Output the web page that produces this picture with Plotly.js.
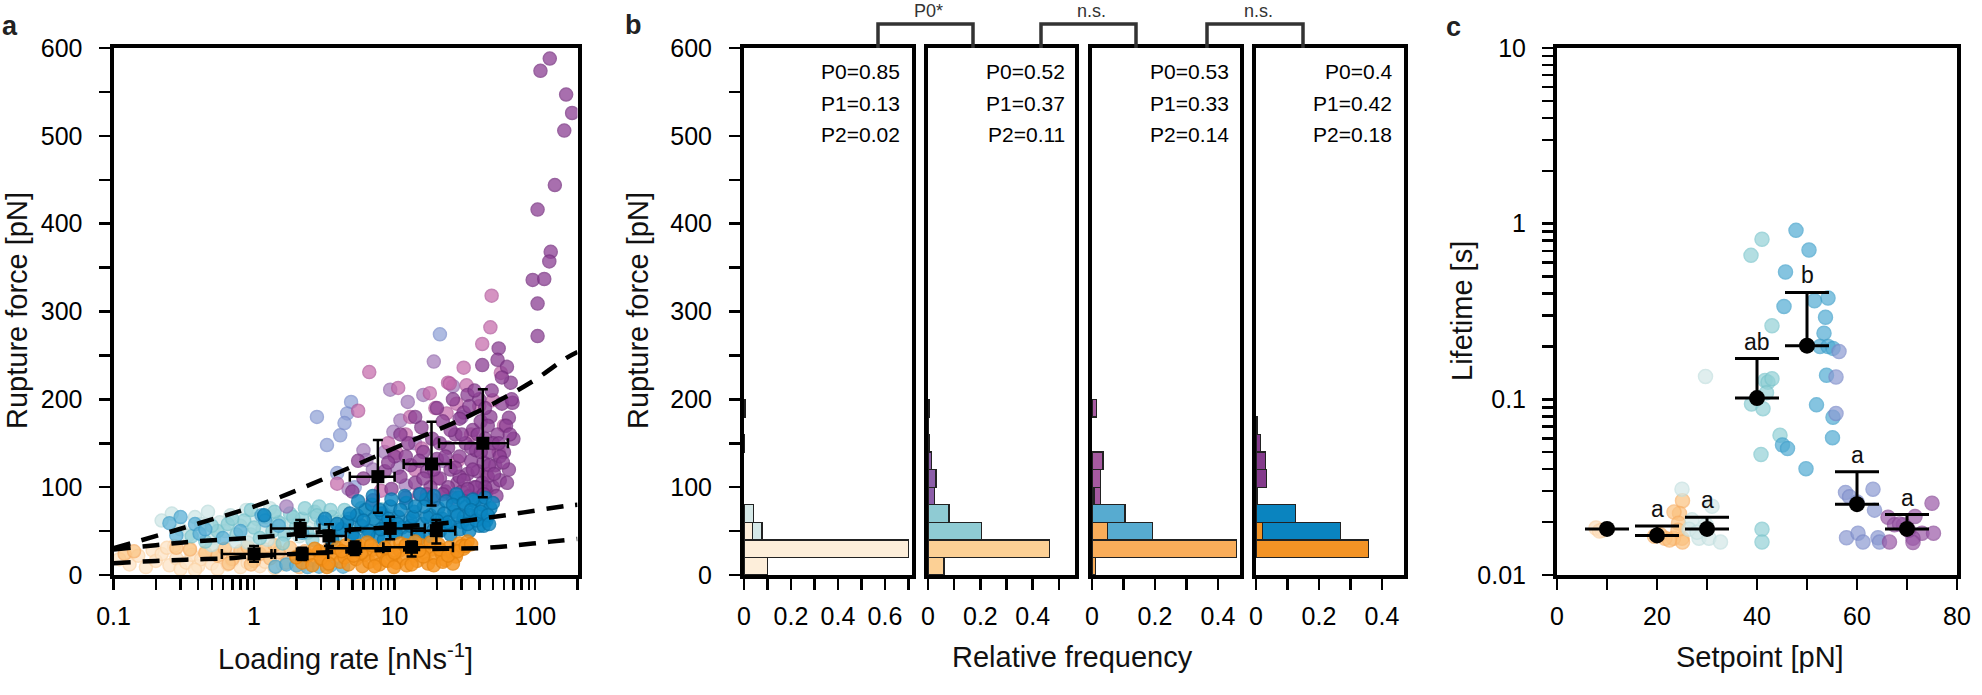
<!DOCTYPE html>
<html>
<head>
<meta charset="utf-8">
<script src="https://cdn.plot.ly/plotly-3.0.1.min.js"></script>
<style>
  html, body { margin: 0; padding: 0; background: #fff; }
  #chart { width: 1982px; height: 695px; }
</style>
</head>
<body>
<div id="chart"></div>
<script>
// ---------- panel a: rupture force vs loading rate ----------
// [loading rate (nN/s), rupture force (pN)]
const ptsPaleOrange = [[0.11,18],[0.13,12],[0.15,22],[0.17,9],[0.19,28],[0.2,16],[0.22,24],[0.25,11],[0.27,33],[0.28,19],[0.3,7],[0.33,14],[0.35,30],[0.36,23],[0.4,10],[0.42,18],[0.45,26],[0.5,13],[0.5,29],[0.55,7],[0.6,20],[0.65,12],[0.7,16],[0.75,24],[0.8,9],[0.9,14],[1.0,19],[1.1,10],[1.2,15],[1.4,8],[1.6,12],[0.24,31],[0.38,6],[0.85,27]];
const ptsLightOrange = [[0.12,24],[0.14,27],[0.28,31],[0.35,29],[0.45,25],[0.55,22],[0.62,30],[0.7,18],[0.8,27],[0.9,32],[1.0,16],[1.1,24],[1.2,29],[1.3,19],[1.5,26],[1.7,14],[1.8,31],[2.0,21],[2.3,27],[2.6,17],[3.0,24],[3.4,30],[3.9,19],[4.4,26],[0.66,13],[1.4,34],[0.95,12],[2.1,9]];
const ptsOrange = [[2.2,14],[2.4,22],[2.6,11],[2.9,27],[3.1,17],[3.3,9],[3.6,24],[3.9,31],[4.1,15],[4.4,20],[4.7,12],[5.0,28],[5.3,18],[5.6,33],[5.9,10],[6.2,23],[6.6,15],[7.0,29],[7.4,20],[7.8,12],[8.2,26],[8.7,17],[9.2,33],[9.7,22],[10.3,14],[10.9,28],[11.5,19],[12.2,11],[12.9,30],[13.7,22],[14.5,16],[15.4,34],[16.3,25],[17.3,13],[18.3,29],[19.4,20],[20.5,35],[21.7,24],[23,17],[24.4,31],[25.8,26],[27.3,21],[29,36],[31,30],[33,38],[3.0,19],[4.5,34],[5.8,25],[7.2,10],[8.9,16],[11,36],[13.2,12],[16,21],[19,11],[22,15],[26,13],[30,33],[6.4,37],[9.9,9],[14,38],
  [2.0,20],[2.7,30],[3.4,13],[4.2,27],[5.1,22],[6.8,34],[8.5,31],[10,25],[12,34],[15,28],[18,37],[21,29],[24,22],[28,27],[32,33],[35,35]];
const ptsPaleTeal = [[0.22,62],[0.26,70],[0.3,52],[0.34,45],[0.38,66],[0.42,58],[0.47,72],[0.52,42],[0.57,60],[0.62,50],[0.68,68],[0.74,38],[0.8,56],[0.88,74],[0.95,46],[1.05,64],[1.15,52],[1.25,40],[1.4,68],[1.55,58],[1.7,48],[1.9,62],[2.1,44],[2.4,54],[2.7,66],[0.5,34],[0.9,37],[1.3,76]];
const ptsTeal = [[0.36,44],[0.45,38],[0.55,50],[0.65,58],[0.75,46],[0.85,62],[1.0,54],[1.1,42],[1.2,66],[1.35,50],[1.5,60],[1.65,46],[1.8,70],[2.0,56],[2.2,64],[2.4,48],[2.7,72],[3.0,58],[3.3,52],[3.6,66],[4.0,60],[4.4,74],[4.9,56],[5.4,68],[6.0,62],[6.7,72],[7.5,64],[8.4,70],[9.4,66],[1.6,36],[2.6,40],[3.8,44],[5.2,48],[0.95,74],[2.9,78],
  [1.4,72],[2.3,76],[3.5,74],[4.6,64],[5.8,76],[7,58],[8,75],[9,60],[1.9,66],[2.8,68],[0.7,64],[0.5,56]];
const ptsLightBlue = [[0.25,59],[0.28,45],[0.3,66],[0.38,58],[0.41,47],[0.45,52],[1.13,68],[1.2,62],[1.42,9.5],[1.7,12],[2.0,11],[2.4,9],[2.9,9.5],[3.5,11],[4.3,9.5],[1.5,56],[2.2,48],[3.1,60],[4.0,52],[4.8,64],[0.6,42],[0.8,50]];
const ptsBlue = [[4.2,52],[4.6,60],[5.0,46],[5.4,68],[5.8,56],[6.2,74],[6.6,50],[7.1,64],[7.6,44],[8.1,70],[8.7,58],[9.3,78],[9.9,48],[10.6,66],[11.3,54],[12.1,82],[12.9,62],[13.8,72],[14.7,46],[15.7,58],[16.8,86],[17.9,68],[19.1,52],[20.4,76],[21.8,64],[23.3,84],[24.9,56],[26.6,72],[28.4,88],[30.3,60],[32.4,78],[34.6,68],[37,84],[39.5,70],[42.2,80],[45,62],[48,76],[5.2,42],[6.9,80],[8.4,40],[10.2,48],[12.5,44],[15,42],[18,44],[21,50],[25,46],[29,52],[34,50],[40,56],[6,62],[9,64],[13,56],[17,66],[23,58],[31,66],[44,88],[7.8,74],[11.8,90],[16.2,78],[27.5,92],[36,86],[1.18,68],[3.6,40],
  [5.5,84],[7,90],[9.5,86],[11,74],[13.5,66],[15.2,92],[19,90],[22.5,70],[24,60],[26,80],[28,68],[31,82],[33,58],[35,74],[38,62],[41,72],[43,56],[46,68],[50,82],[47,58],[20,62],[14,78],[10.5,58],[8,52],[6.5,46],[4.8,70],[3.9,58],[3.2,64]];
const ptsPeriwinkle = [[2.8,180],[4.9,197],[4.6,184],[4.4,173],[4.1,159],[3.3,148],[3.9,116],[21,274],[5.2,100]];
const ptsLavender = [[9.3,211],[12.4,197],[9.8,163],[11,176],[8.5,140],[6,142],[6.3,131],[19,243],[14,150],[22,130],[30,180],[7,120],[12,102],[16,205],[4.7,98],[1.7,78],[26,215],[10.5,122]];
const ptsPink = [[6.6,231],[10.6,213],[5.5,187],[3.9,104],[24,219],[31,236],[57,230],[49,318],[48,282],[42,263],[24.7,218],[32.5,216],[17.8,207],[19.5,190],[12.9,180],[23.4,184],[27.6,195],[40,192],[15.6,144],[10.3,139],[50,199],[9,150],[14,120],[35,160],[20,110],[60,170],[8,96],[28,130],[45,115],[18,88],[12,160],[55,140]];
const ptsPurple = [[127,588],[109,574],[166,547],[183,526],[161,506],[138,444],[104,416],[129,368],[126,357],[96,336],[116,337],[104,309],[104,272],[55,258],[54,245],[63,237],[42,239],[67,219],[69,196],[65,179],
  [8.5,118],[9.5,98],[10,135],[11,112],[12,88],[12.5,150],[13,125],[14,105],[15,92],[15.5,168],[16,140],[17,118],[18,100],[18.5,155],[19,85],[20,132],[21,110],[22,175],[23,95],[24,145],[25,120],[26,88],[27,160],[28,105],[29,135],[30,95],[31,185],[32,150],[33,115],[34,90],[35,130],[36,165],[37,100],[38,142],[39,118],[40,88],[41,175],[42,105],[43,128],[44,155],[45,95],[46,112],[47,140],[48,180],[50,100],[52,125],[54,160],[56,108],[58,195],[60,140],[62,170],[65,120],[68,200],[70,155],[5,95],[6,110],[7,85],[5.5,130],[26,200],[33,205],[20,190],[14,180],[24,100],[36,120],[44,100],[30,160],[50,150],[40,200],[11,160],[17,92],[29,112],[38,100],[46,170],[53,90],[56,135],
  [15,130],[19,120],[23,135],[27,122],[31,108],[35,145],[39,160],[43,92],[47,125],[51,115],[55,150],[59,128],[63,105],[66,160],[21,150],[25,165],[29,178],[34,192],[37,210],[44,190],[49,210],[58,225],[12,135],[9,128],[16,110],[22,92],[33,98],[41,140]];

// binned means with ranges (low/high) in both directions
const meanHiRate = [7.6, 18.3, 42.4];
const meanHiForce = [112, 126.4, 150];
const meanHiRateLo = [4.8, 11.6, 20.7];
const meanHiRateHi = [10.0, 25.1, 64];
const meanHiForceLo = [71, 79, 88.5];
const meanHiForceHi = [153.8, 174.6, 211.5];

const meanMidRate = [2.13, 3.41, 9.3, 19.8];
const meanMidForce = [53, 44.4, 53, 50.5];
const meanMidRateLo = [1.32, 2.0, 4.8, 13.2];
const meanMidRateHi = [2.92, 4.5, 16.4, 27];
const meanMidForceLo = [43.6, 33, 40.6, 36];
const meanMidForceHi = [62.6, 57.7, 66.4, 62.6];

const meanLoRate = [1.0, 2.2, 5.2, 13.2];
const meanLoForce = [24, 24, 30.4, 31.5];
const meanLoRateLo = [0.59, 1.33, 3.28, 8.3];
const meanLoRateHi = [1.41, 3.37, 8.3, 26];
const meanLoForceLo = [15, 17, 22.7, 21];
const meanLoForceHi = [33, 31, 38, 38];

// model curves
const fitUpperRate = [0.1, 0.406, 1.256, 3.87, 11.2, 34.7, 94.8, 166, 200];
const fitUpperForce = [30.4, 58.9, 83.5, 115.8, 148, 182, 220, 247, 254];
const fitMidRate = [0.1, 0.2, 0.36, 0.66, 1.2, 4.4, 22.4, 50, 166, 200];
const fitMidForce = [29, 34, 38, 40.6, 43.6, 51, 59, 66, 78.6, 80];
const fitLowRate = [0.1, 0.2, 0.37, 0.67, 0.92, 8.2, 46, 74, 129, 200];
const fitLowForce = [13.5, 16, 17.8, 19, 21, 28.5, 31, 34, 38, 41];

// ---------- panel b: rupture force histograms ----------
const binCenters = [10, 30, 50, 70, 90, 110, 130, 150, 170, 190];
const h1Orange = [0.10, 0.70, 0.037, 0, 0, 0, 0, 0, 0, 0];
const h1Teal   = [0, 0, 0.04, 0.041, 0, 0, 0, 0, 0, 0];
const h1Purple = [0, 0, 0, 0, 0, 0, 0, 0.003, 0, 0.004];
const h2Orange = [0.061, 0.465, 0, 0, 0, 0, 0, 0, 0, 0];
const h2Teal   = [0, 0, 0.205, 0.08, 0, 0, 0, 0, 0, 0];
const h2Purple = [0, 0, 0, 0, 0.025, 0.03, 0.014, 0.006, 0.002, 0.006];
const h3Orange = [0.012, 0.458, 0.05, 0, 0, 0, 0, 0, 0, 0];
const h3Blue   = [0, 0, 0.142, 0.105, 0.006, 0, 0, 0, 0, 0];
const h3Purple = [0, 0, 0, 0, 0.02, 0.026, 0.035, 0, 0, 0.014];
const h4Orange = [0, 0.357, 0.021, 0, 0, 0, 0, 0, 0, 0];
const h4Blue   = [0, 0, 0.247, 0.126, 0.004, 0, 0, 0, 0, 0];
const h4Purple = [0, 0, 0, 0, 0, 0.033, 0.031, 0.014, 0.003, 0];
const pLabels = [
  ['P0=0.85', 'P1=0.13', 'P2=0.02'],
  ['P0=0.52', 'P1=0.37', 'P2=0.11'],
  ['P0=0.53', 'P1=0.33', 'P2=0.14'],
  ['P0=0.4',  'P1=0.42', 'P2=0.18']
];
const bracketLabels = ['P0*', 'n.s.', 'n.s.'];

// ---------- panel c: lifetime vs setpoint ----------
// [setpoint (pN), lifetime (s)]
const life10 = [[7.8,0.0185],[9,0.018],[8.5,0.0178]];
const life20 = [[25.1,0.0265],[24.5,0.0224],[23.4,0.0228],[24.3,0.0197],[25,0.0162],[23.3,0.0162],[21.6,0.0162],[20.6,0.017],[24.2,0.018],[25.1,0.0154],[22.5,0.0158],[19.5,0.0166]];
const life30 = [[25,0.0308],[31,0.0246],[27,0.0206],[26.4,0.0182],[28.4,0.0162],[30.4,0.0162],[32.7,0.0154],[29.8,0.0193],[29.7,0.135],[28,0.0175]];
const life40 = [[41,0.815],[38.8,0.66],[43,0.262],[41.6,0.128],[42.2,0.125],[41.9,0.109],[38.9,0.094],[41.2,0.0885],[44.6,0.0624],[40.8,0.0485],[41,0.0182],[41,0.0154],[43,0.131]];
const life50 = [[47.8,0.916],[50.4,0.708],[45.7,0.531],[45.4,0.338],[51.5,0.364],[54.2,0.377],[53.7,0.293],[53.4,0.238],[52.6,0.2],[54.2,0.2],[55.2,0.195],[53.9,0.137],[51.9,0.093],[55.2,0.079],[55.1,0.0605],[49.8,0.0403],[45.1,0.055],[46.1,0.0525]];
const life60 = [[56.4,0.187],[55.8,0.134],[55.8,0.083],[57.7,0.0295],[58.5,0.0279],[63.2,0.0308],[63.5,0.0234],[57.9,0.0163],[60.2,0.0173],[61.2,0.0154],[64.2,0.0163],[64.5,0.0154],[60,0.026]];
const life70 = [[66.2,0.0213],[67.5,0.0193],[69.3,0.0193],[71.6,0.0215],[73,0.0173],[75,0.0256],[75.3,0.0173],[71.2,0.0162],[66.5,0.0154],[71.2,0.0153],[68.5,0.0195],[70.3,0.018]];
const setpoints = [10, 20, 30, 40, 50, 60, 70];
const meanLifetime = [0.0183, 0.0168, 0.0183, 0.1016, 0.202, 0.0253, 0.0183];
const lifetimeErrUp = [0, 0.0022, 0.003, 0.069, 0.204, 0.0134, 0.0038];
const groupLetters = ['', 'a', 'a', 'ab', 'b', 'a', 'a'];

// ---------- drawing ----------
const W = 1982, H = 695;
const FONT = 'Liberation Sans, Arial, Helvetica, sans-serif';
const fx = v => v / W;
const fy = v => (H - v) / H;
const Y_DOM = [fy(575), fy(48)];

const traces = [];

function cloud(pts, fill, ring, xa, ya, size, op) {
  traces.push({
    type: 'scatter', mode: 'markers', xaxis: xa, yaxis: ya,
    x: pts.map(p => p[0]), y: pts.map(p => p[1]),
    marker: { size: size, color: fill, opacity: op, line: { color: ring, width: 1.5 } },
    hoverinfo: 'skip'
  });
}

cloud(ptsPaleOrange, '#fde4c6', '#fbd4a8', 'x', 'y', 13, 0.75);
cloud(ptsLightOrange, '#fbc584', '#f7b06a', 'x', 'y', 13, 0.75);
cloud(ptsPaleTeal, '#cfe7e7', '#bddcdc', 'x', 'y', 13, 0.75);
cloud(ptsTeal, '#8fcfd6', '#76c2cb', 'x', 'y', 13, 0.75);
cloud(ptsLightBlue, '#5cb1d6', '#429fca', 'x', 'y', 13, 0.75);
cloud(ptsPeriwinkle, '#8fa1d6', '#7a8dcb', 'x', 'y', 13, 0.72);
cloud(ptsLavender, '#a57cbb', '#9066aa', 'x', 'y', 13, 0.72);
cloud(ptsPink, '#c56aab', '#b1569a', 'x', 'y', 13, 0.72);
cloud(ptsPurple, '#8c3f94', '#772f80', 'x', 'y', 13, 0.75);
cloud(ptsBlue, '#0a86c2', '#0672a8', 'x', 'y', 13, 0.8);
cloud(ptsOrange, '#f7941d', '#e8850f', 'x', 'y', 13, 0.82);

function fitLine(xs, ys) {
  traces.push({
    type: 'scatter', mode: 'lines', xaxis: 'x', yaxis: 'y', x: xs, y: ys,
    line: { color: '#000', width: 4.5, dash: '17px,12px', shape: 'spline' }, hoverinfo: 'skip'
  });
}
fitLine(fitUpperRate, fitUpperForce);
fitLine(fitMidRate, fitMidForce);
fitLine(fitLowRate, fitLowForce);

function meanSeries(x, y, xlo, xhi, ylo, yhi) {
  traces.push({
    type: 'scatter', mode: 'markers', xaxis: 'x', yaxis: 'y', x: x, y: y,
    marker: { symbol: 'square', size: 13, color: '#000' },
    error_x: { type: 'data', symmetric: false, array: x.map((v, i) => xhi[i] - v), arrayminus: x.map((v, i) => v - xlo[i]), color: '#000', thickness: 2.5, width: 5 },
    error_y: { type: 'data', symmetric: false, array: y.map((v, i) => yhi[i] - v), arrayminus: y.map((v, i) => v - ylo[i]), color: '#000', thickness: 2.5, width: 5 },
    hoverinfo: 'skip'
  });
}
meanSeries(meanLoRate, meanLoForce, meanLoRateLo, meanLoRateHi, meanLoForceLo, meanLoForceHi);
meanSeries(meanMidRate, meanMidForce, meanMidRateLo, meanMidRateHi, meanMidForceLo, meanMidForceHi);
meanSeries(meanHiRate, meanHiForce, meanHiRateLo, meanHiRateHi, meanHiForceLo, meanHiForceHi);

// panel b stacked horizontal histograms
const histSets = [
  { ax: 2, series: [[h1Orange, '#fdeeda'], [h1Teal, '#d5e8e7'], [h1Purple, '#6b3a7a']] },
  { ax: 3, series: [[h2Orange, '#fcd095'], [h2Teal, '#8fcbd3'], [h2Purple, '#8c5ea8']] },
  { ax: 4, series: [[h3Orange, '#f9ad5a'], [h3Blue, '#57abd0'], [h3Purple, '#a65aa0']] },
  { ax: 5, series: [[h4Orange, '#f39325'], [h4Blue, '#0a84bf'], [h4Purple, '#843b8c']] }
];
histSets.forEach(s => {
  s.series.forEach(([vals, col]) => {
    traces.push({
      type: 'bar', orientation: 'h', xaxis: 'x' + s.ax, yaxis: 'y' + s.ax,
      y: binCenters, x: vals.map(v => (v > 0 ? v : null)), width: 20,
      marker: { color: col, line: { color: '#222', width: 1.3 } }, hoverinfo: 'skip'
    });
  });
});

// panel c
cloud(life10, '#fde0c0', '#fbd2a6', 'x6', 'y6', 14, 0.7);
cloud(life20, '#fbc280', '#f8b066', 'x6', 'y6', 14, 0.7);
cloud(life30, '#d3e8e8', '#c2dfdf', 'x6', 'y6', 14, 0.7);
cloud(life40, '#93d1d6', '#7cc5cc', 'x6', 'y6', 14, 0.7);
cloud(life50, '#52acd3', '#3e9fca', 'x6', 'y6', 14, 0.7);
cloud(life60, '#8c9bd2', '#7a89c8', 'x6', 'y6', 14, 0.7);
cloud(life70, '#9b5aa8', '#894897', 'x6', 'y6', 14, 0.7);
traces.push({
  type: 'scatter', mode: 'markers', xaxis: 'x6', yaxis: 'y6', x: setpoints, y: meanLifetime,
  marker: { size: 16, color: '#000' },
  error_y: { type: 'data', symmetric: false, array: lifetimeErrUp, arrayminus: setpoints.map(() => 0), color: '#000', thickness: 3, width: 22 },
  hoverinfo: 'skip'
});

// axes
function frameAxis(extra) {
  return Object.assign({
    showline: true, linewidth: 4, linecolor: '#000', mirror: true,
    ticks: 'outside', ticklen: 11, tickwidth: 2.5, tickcolor: '#000',
    showgrid: false, zeroline: false, fixedrange: true,
    tickfont: { family: FONT, size: 25, color: '#000' }
  }, extra);
}
function logTicks(lo, hi) {
  const vals = [], text = [];
  for (let e = lo; e <= hi; e++) {
    for (let m = 1; m <= 9; m++) {
      const v = +(m * Math.pow(10, e)).toPrecision(3);
      vals.push(v);
      text.push(m === 1 ? String(v) : '');
    }
  }
  return { vals, text };
}
const forceTickVals = [0, 50, 100, 150, 200, 250, 300, 350, 400, 450, 500, 550, 600];
const forceTickText = forceTickVals.map(v => (v % 100 === 0 ? String(v) : ''));
const rateTicks = logTicks(-1, 2);
rateTicks.vals.push(200); rateTicks.text.push('');
const lifeTicks = logTicks(-2, 0);
lifeTicks.vals.push(10); lifeTicks.text.push('10');

function freqTicks(maxTick) {
  const vals = [], text = [];
  for (let k = 0; k <= maxTick; k++) {
    vals.push(k / 10);
    text.push(k % 2 === 0 ? (k === 0 ? '0' : (k / 10).toFixed(1)) : '');
  }
  return { tickmode: 'array', tickvals: vals, ticktext: text };
}

const layout = {
  width: W, height: H, margin: { l: 0, r: 0, t: 0, b: 0 },
  paper_bgcolor: '#fff', plot_bgcolor: '#fff', showlegend: false,
  barmode: 'stack', bargap: 0, hovermode: false,
  xaxis: frameAxis({ domain: [fx(113.5), fx(577.5)], type: 'log', range: [-1, Math.log10(200)], anchor: 'y',
    tickmode: 'array', tickvals: rateTicks.vals, ticktext: rateTicks.text, ticklabelstandoff: 5 }),
  yaxis: frameAxis({ domain: Y_DOM, range: [0, 600], anchor: 'x',
    tickmode: 'array', tickvals: forceTickVals, ticktext: forceTickText, ticklabelstandoff: 11 }),

  xaxis2: frameAxis(Object.assign({ domain: [fx(744), fx(912)], range: [0, 0.715], anchor: 'y2', ticklabelstandoff: 5 }, freqTicks(7))),
  yaxis2: frameAxis({ domain: Y_DOM, range: [0, 600], anchor: 'x2',
    tickmode: 'array', tickvals: forceTickVals, ticktext: forceTickText, ticklabelstandoff: 12 }),
  xaxis3: frameAxis(Object.assign({ domain: [fx(928), fx(1075)], range: [0, 0.5615], anchor: 'y3', ticklabelstandoff: 5 }, freqTicks(5))),
  yaxis3: frameAxis({ domain: Y_DOM, range: [0, 600], anchor: 'x3', ticks: '', showticklabels: false }),
  xaxis4: frameAxis(Object.assign({ domain: [fx(1092), fx(1240)], range: [0, 0.47], anchor: 'y4', ticklabelstandoff: 5 }, freqTicks(4))),
  yaxis4: frameAxis({ domain: Y_DOM, range: [0, 600], anchor: 'x4', ticks: '', showticklabels: false }),
  xaxis5: frameAxis(Object.assign({ domain: [fx(1256), fx(1404)], range: [0, 0.47], anchor: 'y5', ticklabelstandoff: 5 }, freqTicks(4))),
  yaxis5: frameAxis({ domain: Y_DOM, range: [0, 600], anchor: 'x5', ticks: '', showticklabels: false }),

  xaxis6: frameAxis({ domain: [fx(1557), fx(1957)], range: [0, 80], anchor: 'y6',
    tickmode: 'array', tickvals: [0, 10, 20, 30, 40, 50, 60, 70, 80], ticktext: ['0', '', '20', '', '40', '', '60', '', '80'], ticklabelstandoff: 5 }),
  yaxis6: frameAxis({ domain: Y_DOM, type: 'log', range: [-2, 1], anchor: 'x6',
    tickmode: 'array', tickvals: lifeTicks.vals, ticktext: lifeTicks.text, ticklabelstandoff: 11 }),

  annotations: [],
  shapes: []
};

const ann = layout.annotations;
function paperText(text, x, y, size, opts) {
  ann.push(Object.assign({
    xref: 'paper', yref: 'paper', x: fx(x), y: fy(y), text: text, showarrow: false,
    xanchor: 'center', yanchor: 'middle', font: { family: FONT, size: size, color: '#111' }
  }, opts || {}));
}

// panel letters
paperText('<b>a</b>', 10, 26, 27, { font: { family: FONT, size: 27, color: '#222' } });
paperText('<b>b</b>', 633, 25, 27, { font: { family: FONT, size: 27, color: '#222' } });
paperText('<b>c</b>', 1453, 27, 27, { font: { family: FONT, size: 27, color: '#222' } });

// axis titles
paperText('Rupture force [pN]', 17, 311, 29, { textangle: -90 });
paperText('Loading rate [nNs<sup>-1</sup>]', 345.5, 657, 29);
paperText('Rupture force [pN]', 638, 311, 29, { textangle: -90 });
paperText('Relative frequency', 1072, 657, 29);
paperText('Lifetime [s]', 1462, 311, 29, { textangle: -90 });
paperText('Setpoint [pN]', 1760, 657, 29);

// P values inside histogram panels
const pRight = [902, 1067, 1231, 1394];
const pRows = [72, 103, 134];
pLabels.forEach((lines, i) => {
  lines.forEach((t, j) => paperText(t, pRight[i], pRows[j], 21, { xanchor: 'right', font: { family: FONT, size: 21, color: '#000' } }));
});

// significance brackets
const brackets = [[878, 973], [1041, 1136], [1207, 1303]];
brackets.forEach((b, i) => {
  layout.shapes.push({
    type: 'path', xref: 'paper', yref: 'paper',
    path: `M ${fx(b[0])},${fy(48)} L ${fx(b[0])},${fy(24)} L ${fx(b[1])},${fy(24)} L ${fx(b[1])},${fy(48)}`,
    line: { color: '#333', width: 3.5 }
  });
  paperText(bracketLabels[i], (b[0] + b[1]) / 2 + 3, 11, 18, { font: { family: FONT, size: 18, color: '#333' } });
});

// group letters above lifetime means
setpoints.forEach((s, i) => {
  if (!groupLetters[i]) return;
  ann.push({
    xref: 'x6', yref: 'y6', x: s, y: Math.log10(meanLifetime[i] + lifetimeErrUp[i]),
    text: groupLetters[i], showarrow: false, xanchor: 'center', yanchor: 'bottom', yshift: 2,
    font: { family: FONT, size: 23, color: '#111' }
  });
});

Plotly.newPlot('chart', traces, layout, { staticPlot: true, displayModeBar: false });
</script>
</body>
</html>
